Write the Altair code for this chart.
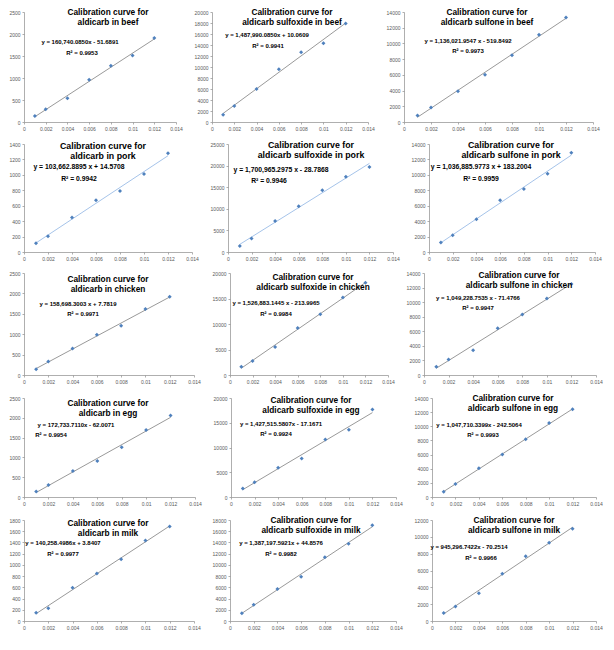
import altair as alt
import pandas as pd

FONT = "Liberation Sans"
BLUE = "#4F81BD"
GRAY_LINE = "#7F7F7F"
PORK_LINE = "#8EB4E3"

conc = [0.001, 0.002, 0.004, 0.006, 0.008, 0.010, 0.012]
x_ticks = [0, 0.002, 0.004, 0.006, 0.008, 0.01, 0.012, 0.014]
compounds = ["aldicarb", "aldicarb sulfoxide", "aldicarb sulfone"]
matrices = ["beef", "pork", "chicken", "egg", "milk"]

beef_aldicarb = [134, 290, 537, 963, 1276, 1510, 1910]
beef_sulfoxide = [1300, 2900, 6000, 9600, 12700, 14300, 17900]
beef_sulfone = [830, 1830, 3900, 6000, 8500, 11100, 13300]
pork_aldicarb = [115, 205, 447, 672, 792, 1010, 1280]
pork_sulfoxide = [1400, 3150, 7200, 10600, 14300, 17400, 19700]
pork_sulfone = [1230, 2170, 4260, 6720, 8170, 10130, 12850]
chicken_aldicarb = [140, 330, 650, 985, 1205, 1620, 1915]
chicken_sulfoxide = [1600, 2750, 5500, 9200, 11900, 15200, 18100]
chicken_sulfone = [1140, 2140, 3410, 6410, 8320, 10500, 12500]
egg_aldicarb = [139, 303, 656, 910, 1254, 1689, 2057]
egg_sulfoxide = [1700, 3000, 5900, 7800, 11600, 13600, 17700]
egg_sulfone = [760, 1830, 4050, 6000, 8150, 10450, 12400]
milk_aldicarb = [147, 229, 594, 847, 1100, 1435, 1682]
milk_sulfoxide = [1400, 2900, 5700, 7900, 11350, 13750, 17050]
milk_sulfone = [960, 1730, 3310, 5620, 7690, 9310, 10960]

responses = [
    [beef_aldicarb, beef_sulfoxide, beef_sulfone],
    [pork_aldicarb, pork_sulfoxide, pork_sulfone],
    [chicken_aldicarb, chicken_sulfoxide, chicken_sulfone],
    [egg_aldicarb, egg_sulfoxide, egg_sulfone],
    [milk_aldicarb, milk_sulfoxide, milk_sulfone],
]

equations = [
    ["y = 160,740.0850x - 51.6891", "y = 1,487,990.0850x + 10.0609", "y = 1,136,021.9547 x - 519.8492"],
    ["y = 103,662.8895 x + 14.5708", "y = 1,700,965.2975 x - 28.7868", "y = 1,036,885.9773 x + 183.2004"],
    ["y = 158,698.3003 x + 7.7819", "y = 1,526,883.1445 x - 213.9965", "y = 1,049,228.7535 x - 71.4766"],
    ["y = 172,733.7110x - 62.0071", "y = 1,427,515.5807x - 17.1671", "y = 1,047,710.3399x - 242.5064"],
    ["y = 140,258.4986x + 3.8407", "y = 1,387,197.5921x + 44.8576", "y = 945,296.7422x - 70.2514"],
]
r_squared = [
    ["0.9953", "0.9941", "0.9973"],
    ["0.9942", "0.9946", "0.9959"],
    ["0.9971", "0.9984", "0.9947"],
    ["0.9954", "0.9924", "0.9993"],
    ["0.9977", "0.9982", "0.9966"],
]

y_max = [
    [2500, 20000, 14000],
    [1400, 25000, 14000],
    [2500, 20000, 14000],
    [2500, 20000, 14000],
    [1800, 18000, 12000],
]
y_step = [
    [500, 2000, 2000],
    [200, 5000, 2000],
    [500, 5000, 2000],
    [500, 5000, 2000],
    [200, 2000, 2000],
]

# layout (pixels)
row_heights = [110, 108, 102, 99, 101]
col_widths = [
    [152, 156, 189],
    [168, 165, 166],
    [170, 158, 172],
    [171, 165, 164],
    [170, 166, 164],
]
# (title x, title line1 y, eq x, eq y, r2 x, r2 y)
text_pos = [
    [(84, 1, 56, 30, 58, 41), (80, 1, 55, 23, 56, 34), (83, 1, 64, 29, 64, 39)],
    [(79, 2, 55, 23, 55, 35), (83, 1, 53, 26, 41, 37), (82, 1, 52, 23, 52, 35)],
    [(84, 7, 54, 31, 59, 41), (83, 5, 46, 30, 46, 41), (95, 3, 54, 25, 54, 35)],
    [(84, 6, 52, 27, 27, 37), (80, 3, 50, 26, 45, 36), (81, 1, 47, 27, 51, 37)],
    [(84, 4, 39, 23, 39, 34), (81, 1, 51, 23, 51, 34), (82, 1, 37, 27, 49, 38)],
]
title_size = [8.3, 8.8, 8.3, 8.3, 8.3]
eq_size = [6, 6.8, 6, 6, 6]


def text_layer(txt, px, py, size):
    return alt.Chart(pd.DataFrame({"t": [txt]})).mark_text(
        font=FONT, fontSize=size, fontWeight="bold", color="#000000",
        align="center", baseline="middle"
    ).encode(text="t:N", x=alt.value(px), y=alt.value(py))


def panel(r, c):
    df = pd.DataFrame({"x": conc, "y": responses[r][c]})
    ymax, ystep = y_max[r][c], y_step[r][c]
    xenc = alt.X("x:Q", scale=alt.Scale(domain=[0, 0.014], nice=False),
                 axis=alt.Axis(values=x_ticks, format=".3~f", title=None,
                               labelFlush=False, grid=False))
    yenc = alt.Y("y:Q", scale=alt.Scale(domain=[0, ymax], nice=False),
                 axis=alt.Axis(values=list(range(0, ymax + 1, ystep)), format="d",
                               title=None, grid=False))
    base = alt.Chart(df)
    line = base.transform_regression("x", "y").mark_line(
        color=PORK_LINE if r == 1 else GRAY_LINE, strokeWidth=0.8
    ).encode(x=xenc, y=yenc)
    pts = base.mark_point(shape="diamond", filled=True, size=16, color=BLUE, opacity=1).encode(x=xenc, y=yenc)
    tx, ty, ex, ey, rx, ry = text_pos[r][c]
    layers = [
        line, pts,
        text_layer("Calibration curve for", tx, ty, title_size[r]),
        text_layer(f"{compounds[c]} in {matrices[r]}", tx, ty + 10, title_size[r]),
        text_layer(equations[r][c], ex, ey, eq_size[r]),
        text_layer(f"R² = {r_squared[r][c]}", rx, ry, eq_size[r]),
    ]
    return alt.layer(*layers).properties(width=col_widths[r][c], height=row_heights[r])


rows = []
for r in range(5):
    rows.append(alt.hconcat(*[panel(r, c) for c in range(3)], spacing=36, bounds="flush"))

chart = alt.vconcat(*rows, spacing=10).properties(padding=0).configure_view(
    stroke=None
).configure_axis(
    domainColor="#8C8C8C", tickColor="#8C8C8C", domainWidth=0.7, tickWidth=0.7,
    tickSize=2, labelFont=FONT, labelFontSize=5, labelColor="#595959", labelPadding=2,
)

chart.save("out.html", embed_options={"renderer": "svg", "actions": False})
